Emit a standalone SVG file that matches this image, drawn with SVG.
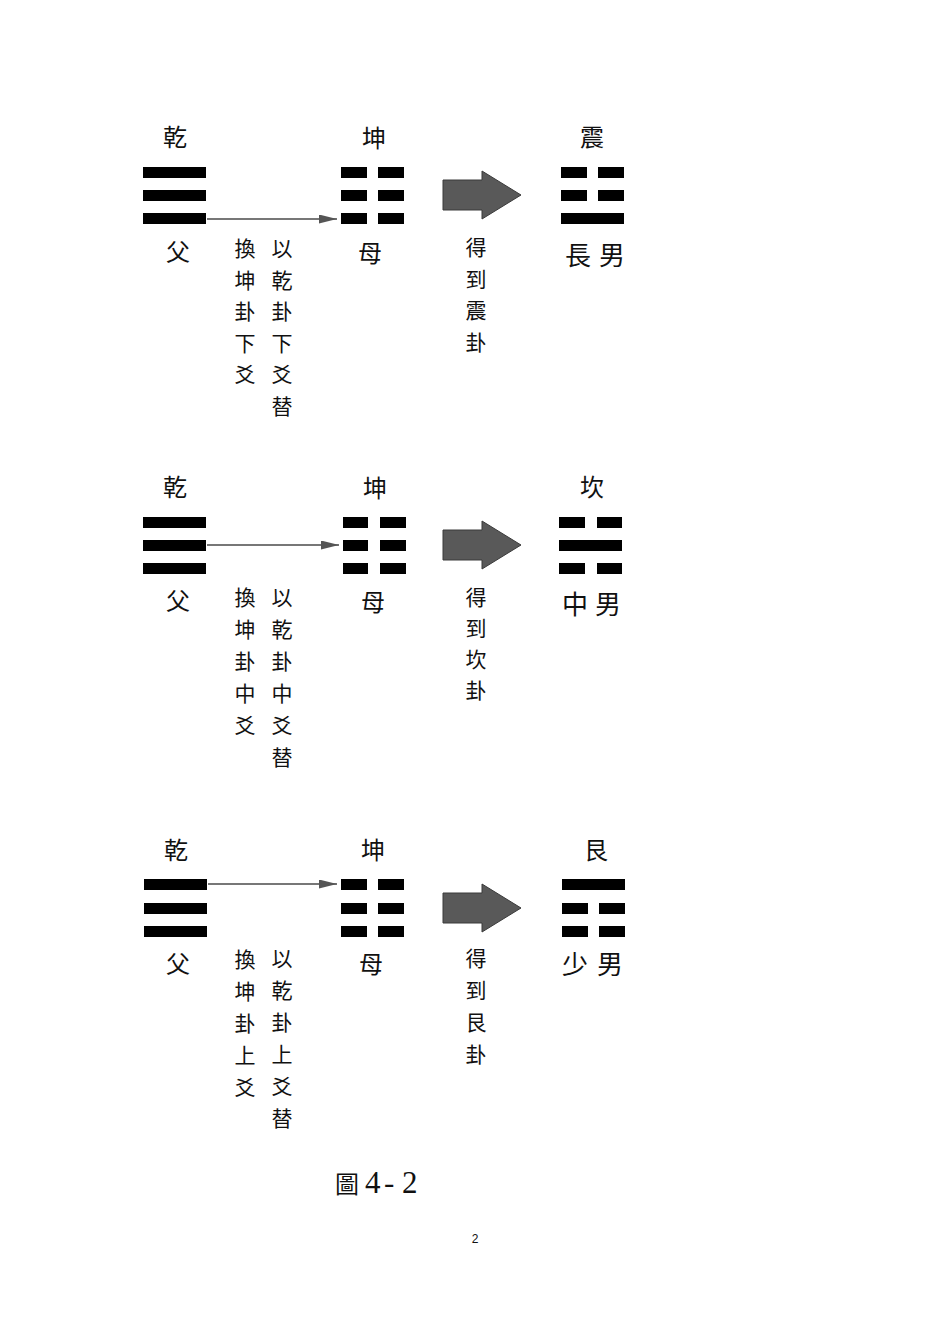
<svg xmlns="http://www.w3.org/2000/svg" width="950" height="1344" viewBox="0 0 950 1344">
<style>
.bar{fill:#000}
.lbl{font-family:"Noto Sans CJK TC","Noto Sans CJK SC",sans-serif;font-size:24px;fill:#111;text-anchor:middle}
.lbl2{font-family:"Noto Sans CJK TC","Noto Sans CJK SC",sans-serif;font-size:26px;fill:#111;text-anchor:middle}
.vt{font-family:"Noto Sans CJK TC","Noto Sans CJK SC",sans-serif;font-size:21px;fill:#111;text-anchor:middle}
.thin{stroke:#4a4a4a;stroke-width:1.3;fill:none}
.big{fill:#595959;stroke:#3a3a3a;stroke-width:1}
.cap{font-family:"Liberation Serif","Noto Sans CJK TC",serif;font-size:31px;fill:#111}
.capc{font-family:"Noto Sans CJK TC","Noto Sans CJK SC",sans-serif;font-size:24px}
.pg{font-family:"Liberation Sans",Arial,sans-serif;font-size:12px;fill:#111;text-anchor:middle}
</style>
<defs>
<marker id="ah" viewBox="0 0 18 9" refX="18" refY="4.5" markerWidth="18" markerHeight="9" markerUnits="userSpaceOnUse" orient="auto">
<path d="M0,0 L18,4.5 L0,9 Z" fill="#555"/>
</marker>
<path id="bigArrow" d="M0,-15 H39 V-24 L78,0 L39,24 V15 H0 Z"/>
</defs>
<rect width="950" height="1344" fill="#fff"/>

<g id="connectors">
<line class="thin" x1="207" y1="219" x2="337" y2="219" marker-end="url(#ah)"/>
<line class="thin" x1="207" y1="545" x2="339" y2="545" marker-end="url(#ah)"/>
<line class="thin" x1="208" y1="884" x2="337" y2="884" marker-end="url(#ah)"/>
<use href="#bigArrow" class="big" x="443" y="195"/>
<use href="#bigArrow" class="big" x="443" y="545"/>
<use href="#bigArrow" class="big" x="443" y="908"/>
</g>

<!-- Row 1 -->
<g id="qian1">
<text class="lbl" x="175" y="146">乾</text>
<rect class="bar" x="143" y="167" width="63" height="11"/>
<rect class="bar" x="143" y="190" width="63" height="11"/>
<rect class="bar" x="143" y="213" width="63" height="11"/>
<text class="lbl" x="178" y="261">父</text>
</g>
<g id="kun1">
<text class="lbl" x="374" y="147">坤</text>
<rect class="bar" x="341" y="167" width="26" height="11"/><rect class="bar" x="378" y="167" width="26" height="11"/>
<rect class="bar" x="341" y="190" width="26" height="11"/><rect class="bar" x="378" y="190" width="26" height="11"/>
<rect class="bar" x="341" y="213" width="26" height="11"/><rect class="bar" x="378" y="213" width="26" height="11"/>
<text class="lbl" x="370" y="262">母</text>
</g>
<g id="zhen1">
<text class="lbl" x="592" y="146">震</text>
<rect class="bar" x="561" y="167" width="26" height="11"/><rect class="bar" x="598" y="167" width="26" height="11"/>
<rect class="bar" x="561" y="190" width="26" height="11"/><rect class="bar" x="598" y="190" width="26" height="11"/>
<rect class="bar" x="561" y="213" width="63" height="11"/>
<text class="lbl2" x="578" y="265">長</text><text class="lbl2" x="612" y="265">男</text>
</g>
<g id="note1">
<text class="vt"><tspan x="245" y="256">換</tspan><tspan x="245" dy="31.5">坤</tspan><tspan x="245" dy="31.5">卦</tspan><tspan x="245" dy="31.5">下</tspan><tspan x="245" dy="31.5">爻</tspan></text>
<text class="vt"><tspan x="282" y="256">以</tspan><tspan x="282" dy="31.5">乾</tspan><tspan x="282" dy="31.5">卦</tspan><tspan x="282" dy="31.5">下</tspan><tspan x="282" dy="31.5">爻</tspan><tspan x="282" dy="31.5">替</tspan></text>
<text class="vt"><tspan x="476" y="255">得</tspan><tspan x="476" dy="31.5">到</tspan><tspan x="476" dy="31.5">震</tspan><tspan x="476" dy="31.5">卦</tspan></text>
</g>

<!-- Row 2 -->
<g id="qian2">
<text class="lbl" x="175" y="496">乾</text>
<rect class="bar" x="143" y="517" width="63" height="11"/>
<rect class="bar" x="143" y="540" width="63" height="11"/>
<rect class="bar" x="143" y="563" width="63" height="11"/>
<text class="lbl" x="178" y="610">父</text>
</g>
<g id="kun2">
<text class="lbl" x="375" y="497">坤</text>
<rect class="bar" x="343" y="517" width="25" height="11"/><rect class="bar" x="380" y="517" width="26" height="11"/>
<rect class="bar" x="343" y="540" width="25" height="11"/><rect class="bar" x="380" y="540" width="26" height="11"/>
<rect class="bar" x="343" y="563" width="25" height="11"/><rect class="bar" x="380" y="563" width="26" height="11"/>
<text class="lbl" x="373" y="611">母</text>
</g>
<g id="kan2">
<text class="lbl" x="592" y="496">坎</text>
<rect class="bar" x="559" y="517" width="26" height="11"/><rect class="bar" x="597" y="517" width="25" height="11"/>
<rect class="bar" x="559" y="540" width="63" height="11"/>
<rect class="bar" x="559" y="563" width="26" height="11"/><rect class="bar" x="597" y="563" width="25" height="11"/>
<text class="lbl2" x="575" y="614">中</text><text class="lbl2" x="608" y="614">男</text>
</g>
<g id="note2">
<text class="vt"><tspan x="245" y="605">換</tspan><tspan x="245" dy="32">坤</tspan><tspan x="245" dy="32">卦</tspan><tspan x="245" dy="32">中</tspan><tspan x="245" dy="32">爻</tspan></text>
<text class="vt"><tspan x="282" y="605">以</tspan><tspan x="282" dy="32">乾</tspan><tspan x="282" dy="32">卦</tspan><tspan x="282" dy="32">中</tspan><tspan x="282" dy="32">爻</tspan><tspan x="282" dy="32">替</tspan></text>
<text class="vt"><tspan x="476" y="605">得</tspan><tspan x="476" dy="31">到</tspan><tspan x="476" dy="31">坎</tspan><tspan x="476" dy="31">卦</tspan></text>
</g>

<!-- Row 3 -->
<g id="qian3">
<text class="lbl" x="176" y="859">乾</text>
<rect class="bar" x="144" y="879" width="63" height="11"/>
<rect class="bar" x="144" y="903" width="63" height="11"/>
<rect class="bar" x="144" y="926" width="63" height="11"/>
<text class="lbl" x="178" y="973">父</text>
</g>
<g id="kun3">
<text class="lbl" x="373" y="859">坤</text>
<rect class="bar" x="341" y="879" width="26" height="11"/><rect class="bar" x="378" y="879" width="26" height="11"/>
<rect class="bar" x="341" y="903" width="26" height="11"/><rect class="bar" x="378" y="903" width="26" height="11"/>
<rect class="bar" x="341" y="926" width="26" height="11"/><rect class="bar" x="378" y="926" width="26" height="11"/>
<text class="lbl" x="371" y="973">母</text>
</g>
<g id="gen3">
<text class="lbl" x="596" y="859">艮</text>
<rect class="bar" x="562" y="879" width="63" height="11"/>
<rect class="bar" x="562" y="903" width="26" height="11"/><rect class="bar" x="599" y="903" width="26" height="11"/>
<rect class="bar" x="562" y="926" width="26" height="11"/><rect class="bar" x="599" y="926" width="26" height="11"/>
<text class="lbl2" x="575" y="974">少</text><text class="lbl2" x="610" y="974">男</text>
</g>
<g id="note3">
<text class="vt"><tspan x="245" y="967">換</tspan><tspan x="245" dy="32">坤</tspan><tspan x="245" dy="32">卦</tspan><tspan x="245" dy="32">上</tspan><tspan x="245" dy="32">爻</tspan></text>
<text class="vt"><tspan x="282" y="966">以</tspan><tspan x="282" dy="32">乾</tspan><tspan x="282" dy="32">卦</tspan><tspan x="282" dy="32">上</tspan><tspan x="282" dy="32">爻</tspan><tspan x="282" dy="32">替</tspan></text>
<text class="vt"><tspan x="476" y="966">得</tspan><tspan x="476" dy="32">到</tspan><tspan x="476" dy="32">艮</tspan><tspan x="476" dy="32">卦</tspan></text>
</g>

<g id="caption">
<text class="cap" x="335" y="1193"><tspan class="capc">圖</tspan><tspan x="365">4</tspan><tspan x="384">-</tspan><tspan x="402">2</tspan></text>
<text class="pg" x="475" y="1243">2</text>
</g>
</svg>
